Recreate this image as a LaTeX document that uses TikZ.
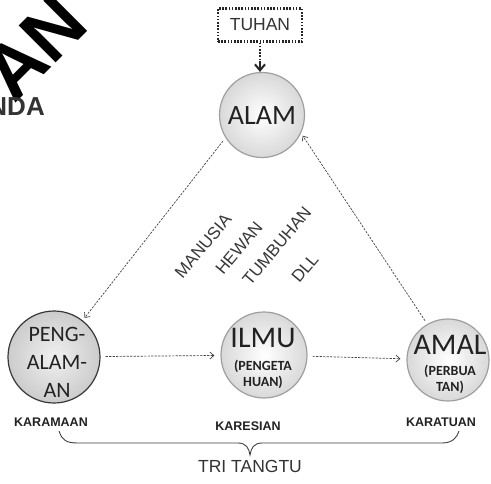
\documentclass[tikz,border=0pt]{standalone}
\usepackage{fontspec}
\setmainfont{Liberation Sans}
\newfontfamily\calfont{Carlito}
\usetikzlibrary{arrows.meta}
\definecolor{txt}{HTML}{222222}
\definecolor{conn}{HTML}{444444}
\tikzset{
  x=1pt, y=-1pt,
  ball/.style={circle, draw=gray!75, line width=1.2pt, inner color=white, outer color=gray!30, inner sep=0pt},
  ballB/.style={circle, draw=gray!45!black, line width=1.2pt, inner color=gray!12, outer color=gray!40, inner sep=0pt},
  conn/.style={draw=conn, line width=0.7pt, dash pattern=on 2.2pt off 1.3pt, -{Straight Barb[length=4pt,width=7pt,line width=0.7pt]}},
  big/.style={font=\calfont\fontsize{30}{30}\selectfont, text=txt, inner sep=0pt},
  small/.style={font=\calfont\bfseries\fontsize{14}{16}\selectfont, text=txt, inner sep=0pt},
  diag/.style={font=\fontsize{17}{17}\selectfont, text=black!78, rotate=50, inner sep=0pt},
  lab/.style={font=\bfseries\fontsize{12.5}{13}\selectfont, text=txt, inner sep=0pt},
}
\begin{document}
\begin{tikzpicture}
\useasboundingbox (0,0) rectangle (491,483);
\clip (0,0) rectangle (491,483);
\fill[white] (0,0) rectangle (491,483);

% partial title fragments
\node[font=\bfseries\fontsize{76}{76}\selectfont, rotate=45, anchor=base west, inner sep=0pt] (bigAN) at (14,105) {AN};
\node[font=\bfseries\fontsize{26}{26}\selectfont, text=black!80, anchor=east, inner sep=0pt] (nda) at (45,107) {NDA};

% TUHAN
\node[draw=black!85, line width=2.2pt, dash pattern=on 1.6pt off 1.6pt, minimum width=84pt, minimum height=33pt,
      font=\fontsize{17.5}{18}\selectfont, text=black!80] (tuhan) at (260,25) {TUHAN};

% circles
\node[ball, minimum size=85pt] (alam) at (262,115) {};
\node[ballB, minimum size=92pt] (peng) at (54,357) {};
\node[ball, minimum size=86pt] (ilmu) at (264,355) {};
\node[ball, minimum size=82pt] (amal) at (448,360) {};

\draw[draw=black!85, line width=2.2pt, dash pattern=on 1.6pt off 1.6pt]
  (tuhan.south) -- ++(0,18) coordinate (tuhanend);
\draw[black!85, line width=2pt, -{Straight Barb[length=6pt,width=10pt,line width=2pt]}]
  (tuhanend) -- (tuhan.south |- alam.north);

% circle texts
\node[big, font=\calfont\fontsize{28}{28}\selectfont] (talam) at (262,116) {ALAM};
\node[font=\calfont\fontsize{22}{28}\selectfont, text=txt, align=center, inner sep=0pt] (tpeng) at (57,362) {PENG-\\ALAM-\\AN};
\node[big] (tilmu) at (263,338) {ILMU};
\node[small] (tilmu2) at (263,366) {(PENGETA};
\node[small] (tilmu3) at (263,382) {HUAN)};
\node[big] (tamal) at (450,345) {AMAL};
\node[small] (tamal2) at (450,371) {(PERBUA};
\node[small] (tamal3) at (450,387) {TAN)};

% connectors
\draw[conn, shorten <=4pt, shorten >=3pt] (alam.212) -- (peng.52);
\draw[conn, shorten <=4pt, shorten >=3pt] (amal.120) -- (alam.-25);
\draw[conn, shorten <=5pt, shorten >=6pt] (peng) -- (ilmu);
\draw[conn, shorten <=5pt, shorten >=6pt] (ilmu) -- (amal);

% diagonal words
\node[diag] (manusia) at (203,246) {MANUSIA};
\node[diag] (hewan) at (239,248) {HEWAN};
\node[diag] (tumbuhan) at (277,246) {TUMBUHAN};
\node[diag] (dll) at (305,268) {DLL};

% bottom labels
\node[lab] (karamaan) at (51,422) {KARAMAAN};
\node[lab] (karesian) at (248,426) {KARESIAN};
\node[lab] (karatuan) at (441,422) {KARATUAN};

% brace
\coordinate (bl) at (59,431);
\coordinate (bt) at (250,455);
\coordinate (br) at (459,431);
\draw[black!75, line width=0.9pt]
  (bl) .. controls (62,440) and (66,443) .. (78,443) -- (238,443)
  .. controls (246,443) and (249,448) .. (bt)
  .. controls (251,448) and (254,443) .. (262,443) -- (442,443)
  .. controls (452,443) and (457,438) .. (br);
\node[font=\fontsize{17.5}{18}\selectfont, text=black!80, inner sep=0pt] (tri) at (250,466) {TRI TANGTU};
\end{tikzpicture}
\end{document}
